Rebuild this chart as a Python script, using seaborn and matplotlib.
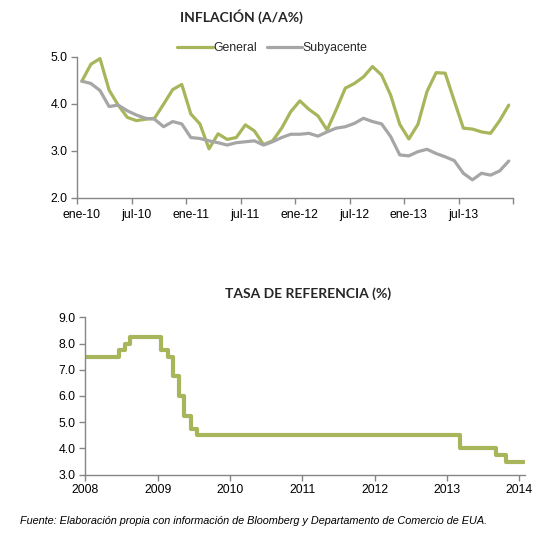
import matplotlib
matplotlib.use("Agg")
import matplotlib.pyplot as plt
import seaborn as sns
import pandas as pd
import numpy as np
from matplotlib.lines import Line2D

# ---------------- data ----------------
general = [4.48, 4.84, 4.96, 4.29, 3.97, 3.71, 3.64, 3.67, 3.69, 3.99, 4.30, 4.41,
           3.78, 3.57, 3.04, 3.36, 3.24, 3.28, 3.55, 3.42, 3.13, 3.21, 3.48, 3.83,
           4.06, 3.88, 3.74, 3.44, 3.87, 4.33, 4.43, 4.57, 4.79, 4.61, 4.18, 3.56,
           3.25, 3.56, 4.26, 4.66, 4.65, 4.06, 3.48, 3.46, 3.40, 3.37, 3.64, 3.97]
subyacente = [4.48, 4.43, 4.28, 3.94, 3.97, 3.85, 3.76, 3.69, 3.67, 3.51, 3.62, 3.57,
              3.28, 3.26, 3.21, 3.17, 3.12, 3.17, 3.19, 3.21, 3.12, 3.19, 3.28, 3.35,
              3.35, 3.37, 3.31, 3.40, 3.48, 3.51, 3.58, 3.69, 3.62, 3.57, 3.30, 2.91,
              2.89, 2.98, 3.03, 2.94, 2.87, 2.79, 2.52, 2.38, 2.52, 2.48, 2.57, 2.78]
month_tick_labels = ['ene-10', 'jul-10', 'ene-11', 'jul-11', 'ene-12', 'jul-12', 'ene-13', 'jul-13']
inf_yticks = [2.0, 3.0, 4.0, 5.0]

rate_dates = ['2008-01-01', '2008-06-20', '2008-07-18', '2008-08-15', '2009-01-16',
              '2009-02-20', '2009-03-20', '2009-04-17', '2009-05-15', '2009-06-19',
              '2009-07-17', '2013-03-08', '2013-09-06', '2013-10-25', '2014-01-24']
rate_values = [7.5, 7.75, 8.0, 8.25, 7.75, 7.5, 6.75, 6.0, 5.25, 4.75, 4.5, 4.0, 3.75, 3.5, 3.5]
year_ticks = ['2008', '2009', '2010', '2011', '2012', '2013', '2014']
rate_yticks = [3.0, 4.0, 5.0, 6.0, 7.0, 8.0, 9.0]

title_top = 'INFLACIÓN (A/A%)'
title_bottom = 'TASA DE REFERENCIA (%)'
footer = 'Fuente: Elaboración propia con información de Bloomberg y Departamento de Comercio de EUA.'

# ---------------- style ----------------
sns.set_theme(style='white')
plt.rcParams['font.family'] = ['Liberation Sans', 'DejaVu Sans']
GREEN = '#A9B55B'
GRAY = '#A6A6A6'
AXC = '#868686'
TFS = 8.8

W, H = 556, 557
fig = plt.figure(figsize=(W / 100, H / 100), dpi=100)

def ax_rect(l, t, r, b):
    return [l / W, 1 - b / H, (r - l) / W, (b - t) / H]

# ---------------- top chart ----------------
ax1 = fig.add_axes(ax_rect(77.3, 56.7, 513.3, 197.7))
n = len(general)
df_inf = pd.DataFrame({
    'idx': list(range(n)) * 2,
    'valor': general + subyacente,
    'serie': ['General'] * n + ['Subyacente'] * n,
})
sns.lineplot(data=df_inf, x='idx', y='valor', hue='serie',
             palette={'General': GREEN, 'Subyacente': GRAY},
             linewidth=2.3, ax=ax1, legend=False)
ax1.set_xlim(-0.5, n - 0.5)
ax1.set_ylim(2.0, 5.0)
ax1.set_xlabel('')
ax1.set_ylabel('')
ax1.set_xticks(np.arange(-0.5, n, 6))
ax1.set_xticklabels([])
ax1.set_xticks(np.arange(0, n, 6), minor=True)
ax1.set_xticklabels(month_tick_labels, minor=True)
ax1.tick_params(axis='x', which='major', length=4, width=1, color=AXC, direction='out', bottom=True)
ax1.tick_params(axis='x', which='minor', length=0, labelsize=TFS, pad=8, labelcolor='black')
ax1.set_yticks(inf_yticks)
ax1.set_yticklabels([f'{v:.1f}' for v in inf_yticks])
ax1.tick_params(axis='y', length=4, width=1, color=AXC, direction='out', left=True,
                labelsize=TFS, labelcolor='black', pad=3)
for s in ['top', 'right']:
    ax1.spines[s].set_visible(False)
for s in ['left', 'bottom']:
    ax1.spines[s].set_color(AXC)
    ax1.spines[s].set_linewidth(1)

handles = [Line2D([], [], color=GREEN, lw=2.3), Line2D([], [], color=GRAY, lw=2.3)]
fig.legend(handles, ['General', 'Subyacente'], loc='center', ncol=2, frameon=False,
           bbox_to_anchor=(272.5 / W, 1 - 48.0 / H), fontsize=TFS, handlelength=2.9,
           handletextpad=0.05, columnspacing=0.8)

fig.text(241.5 / W, 1 - 16.5 / H, title_top, ha='center', va='center',
         fontsize=10.0, fontweight='bold', family=['Lato', 'DejaVu Sans'])

# ---------------- bottom chart ----------------
ax2 = fig.add_axes(ax_rect(85.3, 317.3, 525.0, 474.7))
df_rate = pd.DataFrame({'fecha': pd.to_datetime(rate_dates), 'tasa': rate_values})
sns.lineplot(data=df_rate, x='fecha', y='tasa', color=GREEN, linewidth=3.0,
             drawstyle='steps-post', ax=ax2)
ax2.set_xlim(pd.Timestamp('2008-01-01'), pd.Timestamp('2014-01-29'))
ax2.set_ylim(3.0, 9.0)
ax2.set_xlabel('')
ax2.set_ylabel('')
ax2.set_xticks(pd.to_datetime([y + '-01-01' for y in year_ticks]))
ax2.set_xticklabels(year_ticks)
ax2.set_yticks(rate_yticks)
ax2.set_yticklabels([f'{v:.1f}' for v in rate_yticks])
ax2.tick_params(axis='both', length=4, width=1, color=AXC, direction='out',
                bottom=True, left=True, labelsize=TFS, labelcolor='black', pad=3)
for s in ['top', 'right']:
    ax2.spines[s].set_visible(False)
for s in ['left', 'bottom']:
    ax2.spines[s].set_color(AXC)
    ax2.spines[s].set_linewidth(1)

fig.text(308 / W, 1 - 293.5 / H, title_bottom, ha='center', va='center',
         fontsize=10.0, fontweight='bold', family=['Lato', 'DejaVu Sans'])

fig.text(20 / W, 1 - 520.5 / H, footer, ha='left', va='center', fontsize=7.8,
         style='italic', color='black')

fig.savefig('out.png', dpi=100)
